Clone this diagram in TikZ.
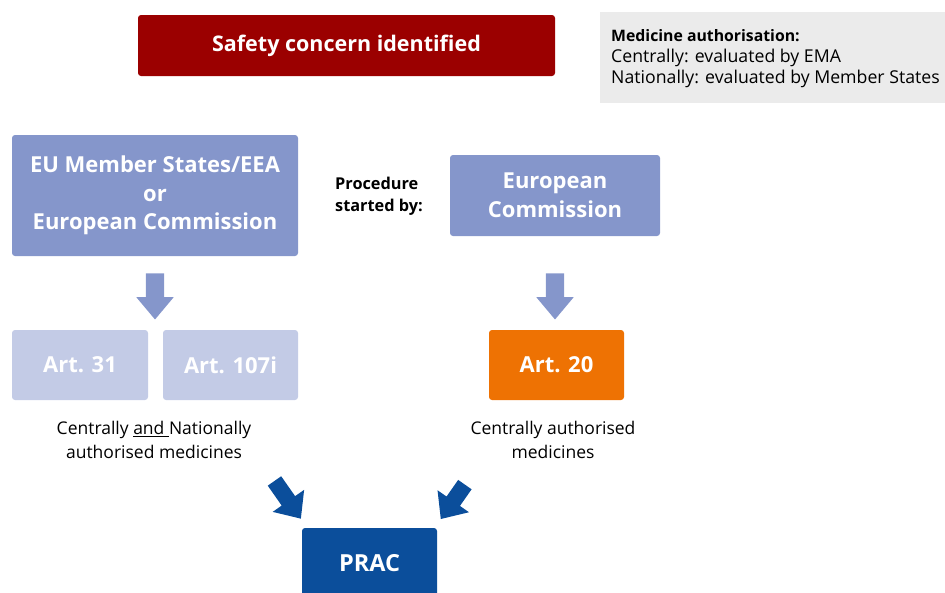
\documentclass[tikz,border=0pt]{standalone}
\usepackage{fontspec}
\setmainfont{Open Sans}
\usetikzlibrary{shapes.arrows}
\definecolor{alertred}{HTML}{9B0000}
\definecolor{infogray}{HTML}{EBEBEB}
\definecolor{startblue}{HTML}{8596CB}
\definecolor{artlight}{HTML}{C3CBE6}
\definecolor{artorange}{HTML}{EE7203}
\definecolor{pracblue}{HTML}{0B4E9B}
\tikzset{
  box/.style={rectangle, rounded corners=3pt, inner sep=0pt, align=center,
    text=white, font=\fontsize{22}{28.5}\bfseries},
  downarrow/.style={single arrow, draw=none, fill=startblue, minimum height=46pt,
    inner xsep=0pt, inner ysep=9pt, single arrow head extend=9.5pt,
    single arrow tip angle=80, rotate=-90},
  diagarrow/.style={single arrow, draw=none, fill=pracblue,
    inner xsep=0pt, inner ysep=8pt, single arrow head extend=11pt,
    single arrow tip angle=83},
  caption/.style={align=center, font=\fontsize{17.5}{24}\selectfont, text=black},
}
\begin{document}
\begin{tikzpicture}[x=1pt,y=-1pt]
  \useasboundingbox (0,0) rectangle (945,592);
  % trigger
  \node[box, fill=alertred, minimum width=417pt, minimum height=61pt,
    font=\fontsize{21.5}{26}\bfseries] (concern) at (346.5,45.5) {Safety concern identified};
  % legend
  \node[rectangle, fill=infogray, minimum width=345pt, minimum height=91pt, inner sep=0pt]
    (legend) at (772.5,57.5) {};
  \node[anchor=west, align=left, inner sep=0pt, font=\fontsize{17.7}{21}\selectfont]
    (legendtext) at (611,59) {{\fontsize{15.8}{21}\bfseries Medicine authorisation:}\\Centrally: evaluated by EMA\\Nationally: evaluated by Member States};
  % initiators
  \node[box, fill=startblue, minimum width=286pt, minimum height=121pt] (members) at (155,195.5)
    {EU Member States/EEA\\or\\European Commission};
  \node[align=left, inner sep=0pt, font=\fontsize{16.3}{22}\bfseries] (startedby) at (379,196)
    {Procedure\\started by:};
  \node[box, fill=startblue, minimum width=210pt, minimum height=81pt] (commission) at (555,195.5)
    {European\\Commission};
  % procedures
  \node[downarrow] (arrowleft) at (155,291) {};
  \node[downarrow] (arrowright) at (555,291) {};
  \node[box, fill=artlight, minimum width=136pt, minimum height=70pt] (art31) at (80,365) {Art. 31};
  \node[box, fill=artlight, minimum width=135pt, minimum height=70pt] (art107) at (230.5,365) {Art. 107i};
  \node[box, fill=artorange, minimum width=135pt, minimum height=70pt] (art20) at (556.5,365) {Art. 20};
  \node[caption] (scopeboth) at (154,440) {Centrally \underline{and }Nationally\\authorised medicines};
  \node[caption] (scopecentral) at (553,440) {Centrally authorised\\medicines};
  % committee
  \node[diagarrow, minimum height=46pt, rotate=-55] (toprac1) at (285,496) {};
  \node[diagarrow, minimum height=42pt, rotate=-125] (toprac2) at (455.5,498) {};
  \node[box, fill=pracblue, minimum width=135pt, minimum height=70pt,
    font=\fontsize{23.5}{28}\bfseries] (prac) at (369.5,563) {PRAC};
\end{tikzpicture}
\end{document}
